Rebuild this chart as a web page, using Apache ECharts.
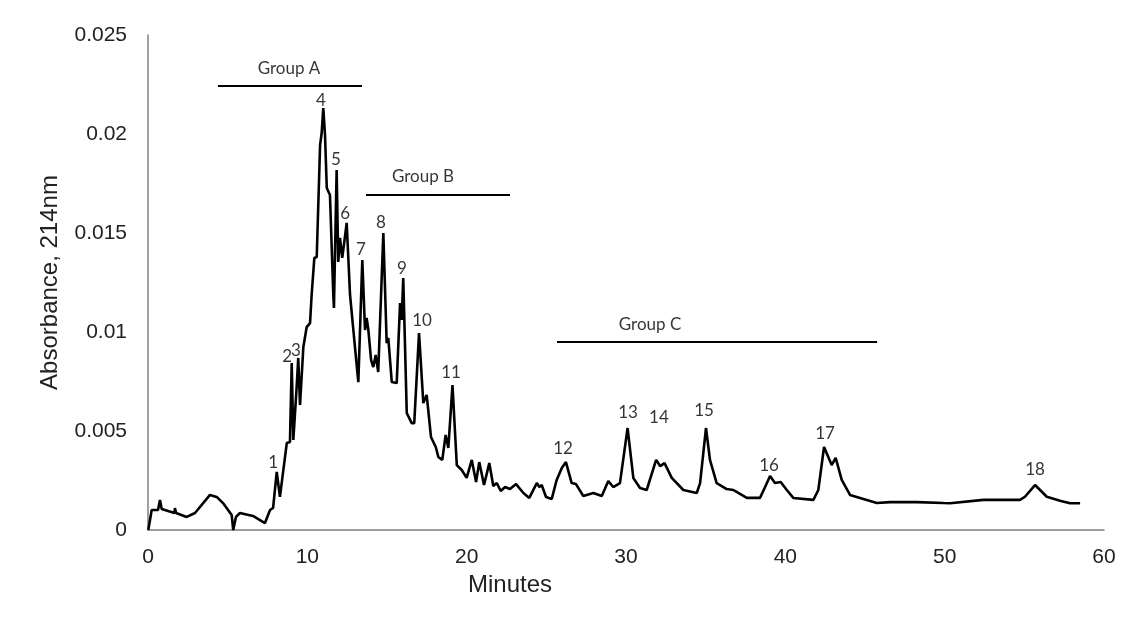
<!DOCTYPE html>
<html>
<head>
<meta charset="utf-8">
<script src="https://cdn.jsdelivr.net/npm/echarts@6/dist/echarts.min.js"></script>
<style>html,body{margin:0;padding:0;background:#fff;}#c{width:1144px;height:634px;}</style>
</head>
<body>
<div id="c"></div>
<script>
// Chromatogram trace: retention time (minutes) and absorbance at 214 nm
var time = [0.02,0.23,0.31,0.63,0.75,0.86,1.66,1.69,1.76,2.43,2.95,3.89,4.31,4.71,5.25,5.35,5.52,5.77,6.59,7.34,7.66,7.85,8.08,8.28,8.71,8.91,9.02,9.12,9.33,9.43,9.54,9.75,9.96,10.17,10.27,10.44,10.59,10.80,10.90,11.00,11.11,11.22,11.42,11.63,11.67,11.84,11.94,12.05,12.19,12.32,12.47,12.68,12.99,13.20,13.45,13.62,13.72,13.83,14.00,14.14,14.29,14.45,14.77,14.98,15.08,15.30,15.61,15.82,15.92,16.02,16.24,16.55,16.71,17.01,17.28,17.49,17.76,18.06,18.22,18.47,18.68,18.85,19.11,19.38,19.69,20.00,20.32,20.59,20.79,21.09,21.42,21.67,21.89,22.14,22.41,22.72,23.10,23.56,23.93,24.40,24.56,24.71,24.98,25.34,25.65,25.97,26.23,26.59,26.86,27.32,27.95,28.48,28.89,29.20,29.62,30.10,30.46,30.88,31.30,31.89,32.14,32.42,32.87,33.60,34.44,34.65,35.02,35.27,35.69,36.32,36.74,37.05,37.58,38.41,38.73,39.04,39.35,39.71,40.09,40.50,41.76,42.07,42.43,42.91,43.16,43.54,44.06,44.90,45.74,46.57,48.25,49.92,50.34,52.43,54.73,55.04,55.67,55.99,56.41,57.24,57.87,58.50];
var absorbance = [0,0.00101,0.00091,0.00101,0.00152,0.00106,0.00086,0.00111,0.00086,0.00066,0.00086,0.00177,0.00167,0.00136,0.00076,0.0,0.00066,0.00086,0.00071,0.00035,0.00101,0.00111,0.00293,0.00167,0.00439,0.00444,0.00843,0.00455,0.00722,0.00869,0.00631,0.00924,0.01025,0.01045,0.01187,0.01374,0.01379,0.01944,0.02005,0.02131,0.01995,0.01727,0.01692,0.01187,0.01121,0.01818,0.01354,0.01475,0.01374,0.01455,0.01551,0.01187,0.00924,0.00747,0.01364,0.01010,0.01071,0.01010,0.00859,0.00823,0.00884,0.00798,0.01500,0.00944,0.00970,0.00747,0.00742,0.01146,0.01061,0.01273,0.00591,0.00540,0.00540,0.00995,0.00641,0.00682,0.00470,0.00419,0.00369,0.00354,0.00480,0.00414,0.00732,0.00328,0.00303,0.00263,0.00354,0.00242,0.00343,0.00227,0.00338,0.00222,0.00237,0.00197,0.00217,0.00207,0.00232,0.00187,0.00162,0.00237,0.00217,0.00227,0.00167,0.00157,0.00253,0.00313,0.00343,0.00237,0.00232,0.00172,0.00187,0.00172,0.00247,0.00217,0.00237,0.00515,0.00263,0.00212,0.00202,0.00354,0.00323,0.00338,0.00263,0.00202,0.00187,0.00237,0.00515,0.00354,0.00237,0.00207,0.00202,0.00187,0.00162,0.00162,0.00217,0.00273,0.00237,0.00242,0.00202,0.00162,0.00152,0.00202,0.00419,0.00328,0.00364,0.00253,0.00177,0.00157,0.00136,0.00141,0.00141,0.00136,0.00135,0.00152,0.00152,0.00168,0.00227,0.00202,0.00168,0.00148,0.00135,0.00135];

// Peak numbers and where their labels sit
var peakNames = ["1","2","3","4","5","6","7","8","9","10","11","12","13","14","15","16","17","18"];
var peakLabelTime = [7.85,8.73,9.29,10.86,11.80,12.37,13.37,14.62,15.94,17.20,19.02,26.05,30.13,32.07,34.90,38.98,42.49,55.67];
var peakLabelAbs = [0.00343,0.00874,0.00904,0.02167,0.01869,0.01596,0.01419,0.01551,0.01323,0.01056,0.00793,0.00414,0.00591,0.00566,0.00601,0.00328,0.00485,0.00303];

// Fraction groups
var groupNames = ["Group A","Group B","Group C"];
var groupStart = [4.39,13.68,25.67];
var groupEnd = [13.43,22.72,45.76];
var groupLevel = [0.02242,0.01692,0.00949];
var groupLabelTime = [8.85,17.26,31.51];
var groupLabelAbs = [0.02333,0.01783,0.01040];

// Axis ticks
var xTicks = [0,10,20,30,40,50,60];
var yTickLabels = ["0","0.005","0.01","0.015","0.02","0.025"];

var chart = echarts.init(document.getElementById('c'), null, {renderer:'canvas'});
var labelFont = {fontFamily:'Lato', fontSize:17, fontWeight:'normal', color:'#000'};

var series = [{
  type:'line',
  data: time.map(function(t,i){return [t, absorbance[i]];}),
  symbol:'none',
  lineStyle:{color:'#000', width:2.6},
  z:3,
  silent:true
}];
groupNames.forEach(function(g,i){
  series.push({
    type:'line',
    data:[[groupStart[i],groupLevel[i]],[groupEnd[i],groupLevel[i]]],
    symbol:'none',
    lineStyle:{color:'#000', width:2},
    silent:true
  });
});
series.push({
  type:'scatter',
  symbolSize:0,
  data: groupNames.map(function(g,i){return {name:g, value:[groupLabelTime[i], groupLabelAbs[i]]};}),
  label:Object.assign({show:true, position:'inside', formatter:'{b}'}, labelFont),
  silent:true
});
series.push({
  type:'scatter',
  symbolSize:0,
  data: peakNames.map(function(p,i){return {name:p, value:[peakLabelTime[i], peakLabelAbs[i]]};}),
  label:Object.assign({show:true, position:'inside', formatter:'{b}'}, labelFont),
  silent:true
});

chart.setOption({
  animation:false,
  backgroundColor:'#fff',
  grid:{left:148, right:40, top:35, bottom:104, containLabel:false},
  xAxis:{
    type:'value', min:xTicks[0], max:xTicks[xTicks.length-1], interval:10,
    name:'Minutes', nameLocation:'middle', nameGap:33,
    nameTextStyle:{fontFamily:'Liberation Sans', fontSize:24, color:'#222', padding:[0,232,0,0]},
    axisLine:{show:true, lineStyle:{color:'#808080', width:1.5}},
    axisTick:{show:false},
    splitLine:{show:false},
    axisLabel:{fontFamily:'Liberation Sans', fontSize:21, color:'#222', margin:17}
  },
  yAxis:{
    type:'value', min:0, max:0.025, interval:0.005,
    name:'Absorbance, 214nm', nameLocation:'middle', nameGap:86,
    nameTextStyle:{fontFamily:'Liberation Sans', fontSize:24, color:'#222'},
    axisLine:{show:true, lineStyle:{color:'#808080', width:1.5}},
    axisTick:{show:false},
    splitLine:{show:false},
    axisLabel:{fontFamily:'Liberation Sans', fontSize:21, color:'#222', margin:21,
      formatter:function(v){return yTickLabels[Math.round(v/0.005)];}}
  },
  series:series
});
</script>
</body>
</html>
